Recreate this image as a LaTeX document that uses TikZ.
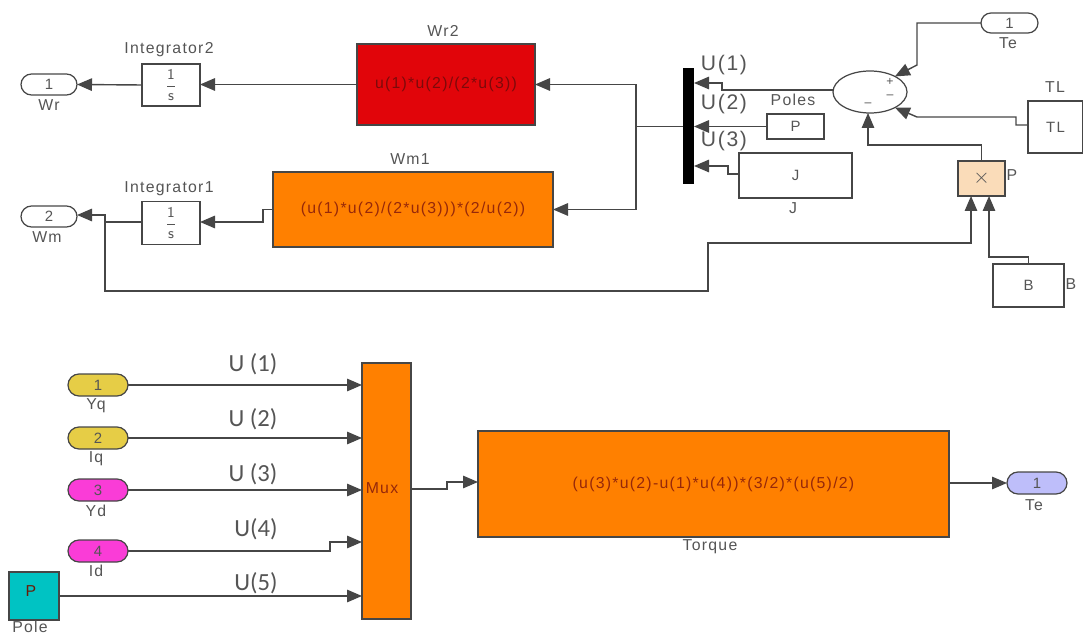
\documentclass[tikz,border=0pt]{standalone}
\usepackage{fontspec}
\setmainfont[LetterSpace=8]{Liberation Sans}
\newfontfamily\ulabelfont{Carlito}
\usepackage{tikz}
\usetikzlibrary{arrows.meta,positioning,shapes.geometric,shapes.misc}
\definecolor{linegray}{RGB}{70,70,70}
\definecolor{textgray}{RGB}{85,85,85}
\definecolor{blockred}{RGB}{225,5,10}
\definecolor{blockorange}{RGB}{255,128,0}
\definecolor{formulared}{RGB}{150,40,10}
\definecolor{formuladark}{RGB}{125,10,10}
\definecolor{gainpeach}{RGB}{250,220,185}
\definecolor{portyellow}{RGB}{230,205,70}
\definecolor{portmagenta}{RGB}{250,60,215}
\definecolor{portcyan}{RGB}{0,195,195}
\definecolor{portlav}{RGB}{190,190,250}
\begin{document}
\begin{tikzpicture}[
    x=0.2mm, y=-0.2mm,
    size/.style 2 args={minimum width=#1*0.2mm, minimum height=#2*0.2mm},
    box/.style={rectangle, draw=linegray, line width=0.7pt, inner sep=0pt, outer sep=0pt, font=\fontsize{8.5}{10}\selectfont, text=textgray},
    port/.style={rounded rectangle, draw=linegray, line width=0.7pt, inner sep=0pt, outer sep=0pt, font=\fontsize{8.5}{10}\selectfont, text=textgray},
    formula/.style={box, font=\fontsize{9}{11}\selectfont, text=formulared},
    tag/.style={inner sep=0pt, font=\fontsize{9}{11}\selectfont, text=textgray},
    toplabel/.style={inner sep=0pt, font=\fontsize{12}{14}\selectfont, text=textgray},
    ulabel/.style={inner sep=0pt, font=\ulabelfont\fontsize{14}{16}\selectfont, text=textgray},
    arrow/.style={-{Triangle[length=3mm, width=2.5mm]}, linegray, line width=0.8pt}
]
\useasboundingbox (0,0) rectangle (1083,635);

% Upper nodes
\node[port, size={56}{21}] (wr) at (49,84.5) {1};
\node[port, size={56}{21}] (wm) at (49,216.5) {2};
\node[box, size={58}{42}] (int2) at (171,85) {$\displaystyle\frac{\mathsf{1}}{\mathsf{s}}$};
\node[box, size={58}{43}] (int1) at (171,223) {$\displaystyle\frac{\mathsf{1}}{\mathsf{s}}$};
\node[formula, fill=blockred, text=formuladark, size={178}{81}] (wr2) at (446,84.5) {u(1)*u(2)/(2*u(3))};
\node[formula, fill=blockorange, size={280}{75}] (wm1) at (413,209.5) {(u(1)*u(2)/(2*u(3)))*(2/u(2))};
\node[rectangle, fill=black, inner sep=0pt, outer sep=0pt, size={11}{116}] (bar) at (688.5,126) {};
\node[box, size={57}{25}] (poles) at (795.5,126.5) {P};
\node[box, size={113}{45}] (jbox) at (795.5,175.5) {J};
\node[ellipse, draw=linegray, line width=0.7pt, inner sep=0pt, outer sep=0pt, size={74}{42}] (sum) at (870,92) {};
\node[port, size={57}{20}] (te) at (1009.5,23) {1};
\node[box, size={55}{52}] (tl) at (1055.5,127) {TL};
\node[box, fill=gainpeach, size={47}{35}, font=\fontsize{12}{12}\selectfont] (gain) at (981.5,178.5) {$\times$};
\node[box, size={71}{43}] (bbox) at (1028.5,285.5) {B};

% Lower nodes
\node[port, fill=portyellow, size={60}{22}] (yq) at (98,385) {1};
\node[port, fill=portyellow, size={60}{22}] (iq) at (98,438) {2};
\node[port, fill=portmagenta, size={60}{22}] (yd) at (98,490) {3};
\node[port, fill=portmagenta, size={60}{22}] (id) at (98,551) {4};
\node[box, fill=portcyan, size={50}{48}] (pole) at (34,596) {};
\node[box, fill=blockorange, size={49}{256}] (mux) at (386.5,491) {};
\node[formula, fill=blockorange, size={471}{106}] (torque) at (713.5,484) {(u(3)*u(2)-u(1)*u(4))*(3/2)*(u(5)/2)};
\node[port, fill=portlav, size={60}{22}] (teout) at (1037,483) {1};

% Upper arrows
\draw[arrow] (wr2.west) -- (wr2.west -| int2.east);
\draw[arrow] (int2.west) -- (wr.east);
\draw[arrow] (bar.west |- poles.west) -- (636,126.5) |- (wr2.east);
\draw[arrow] (636,126.5) |- (wm1.east);
\draw[arrow] (wm1.west) -- (263,209.5) -- (263,222) -- (int1.east |- 0,222);
\draw[arrow] (int1.west |- 0,222) -- (105,222) -- (105,215) -- (wm.east |- 0,215);
\draw[arrow] (105,222) -- (105,291) -- (708,291) -- (708,243) -- (971,243) -- (971,196);
\draw[arrow] (sum.west |- 0,90) -- (722,90) -- (722,83) -- (bar.east |- 0,83);
\draw[arrow] (poles.west) -- (bar.east |- poles.west);
\draw[arrow] (jbox.west |- 0,174) -- (728,174) -- (728,166) -- (bar.east |- 0,166);
\draw[arrow] (te.west) -- (917,23) -- (917,65) -- (sum.32);
\draw[arrow] (tl.west |- 0,125) -- (1016,125) -- (1016,117) -- (917,117) -- (sum.-32);
\draw[arrow] (gain.north) -- (981.5,145) -- (868,145) -- (sum.south -| 868,0);
\draw[arrow] (bbox.north) -- (1028.5,257) -- (989,257) -- (989,196);

% Lower arrows
\draw[arrow] (yq.east) -- (mux.west |- yq.east);
\draw[arrow] (iq.east) -- (mux.west |- iq.east);
\draw[arrow] (yd.east) -- (mux.west |- yd.east);
\draw[arrow] (id.east) -- (330,551) -- (330,542) -- (mux.west |- 0,542);
\draw[arrow] (pole.east) -- (mux.west |- pole.east);
\draw[arrow] (mux.east |- 0,489) -- (447,489) -- (447,482) -- (torque.west |- 0,482);
\draw[arrow] (torque.east |- teout.west) -- (teout.west);

% Labels
\node[tag] (wrtag) at (49,105) {Wr};
\node[tag] (wmtag) at (47,237) {Wm};
\node[tag] (int2tag) at (169,50) {Integrator2};
\node[tag] (int1tag) at (169,189) {Integrator1};
\node[tag] (wr2tag) at (443,31) {Wr2};
\node[tag] (wm1tag) at (410,159) {Wm1};
\node[tag] (polestag) at (793,100) {Poles};
\node[tag] (jtag) at (793,208) {J};
\node[tag] (tetag) at (1008,43) {Te};
\node[tag] (tltag) at (1055,87) {TL};
\node[tag] (ptag) at (1012,175) {P};
\node[tag] (btag) at (1071,284) {B};
\node[tag, font=\fontsize{7}{8}\selectfont] (plus) at (890,82) {+};
\node[tag, font=\fontsize{7}{8}\selectfont] (minusa) at (890,97) {--};
\node[tag, font=\fontsize{7}{8}\selectfont] (minusb) at (868,105) {--};
\node[toplabel] (u1top) at (724,65) {U(1)};
\node[toplabel] (u2top) at (724,104) {U(2)};
\node[toplabel] (u3top) at (724,141) {U(3)};
\node[tag] (yqtag) at (96,406) {Yq};
\node[tag] (iqtag) at (96,459) {Iq};
\node[tag] (ydtag) at (96,511) {Yd};
\node[tag] (idtag) at (96,571) {Id};
\node[tag] (poletag) at (30,627) {Pole};
\node[tag, text=formulared!70!black] (ptext) at (31,591) {P};
\node[tag, text=formulared] (muxtag) at (382,488) {Mux};
\node[tag] (torquetag) at (710,547) {Torque};
\node[tag] (tetag2) at (1034,505) {Te};
\node[ulabel] (u1) at (253,364) {U (1)};
\node[ulabel] (u2) at (253,419) {U (2)};
\node[ulabel] (u3) at (253,474) {U (3)};
\node[ulabel] (u4) at (256,529) {U(4)};
\node[ulabel] (u5) at (256,583) {U(5)};
\end{tikzpicture}
\end{document}
